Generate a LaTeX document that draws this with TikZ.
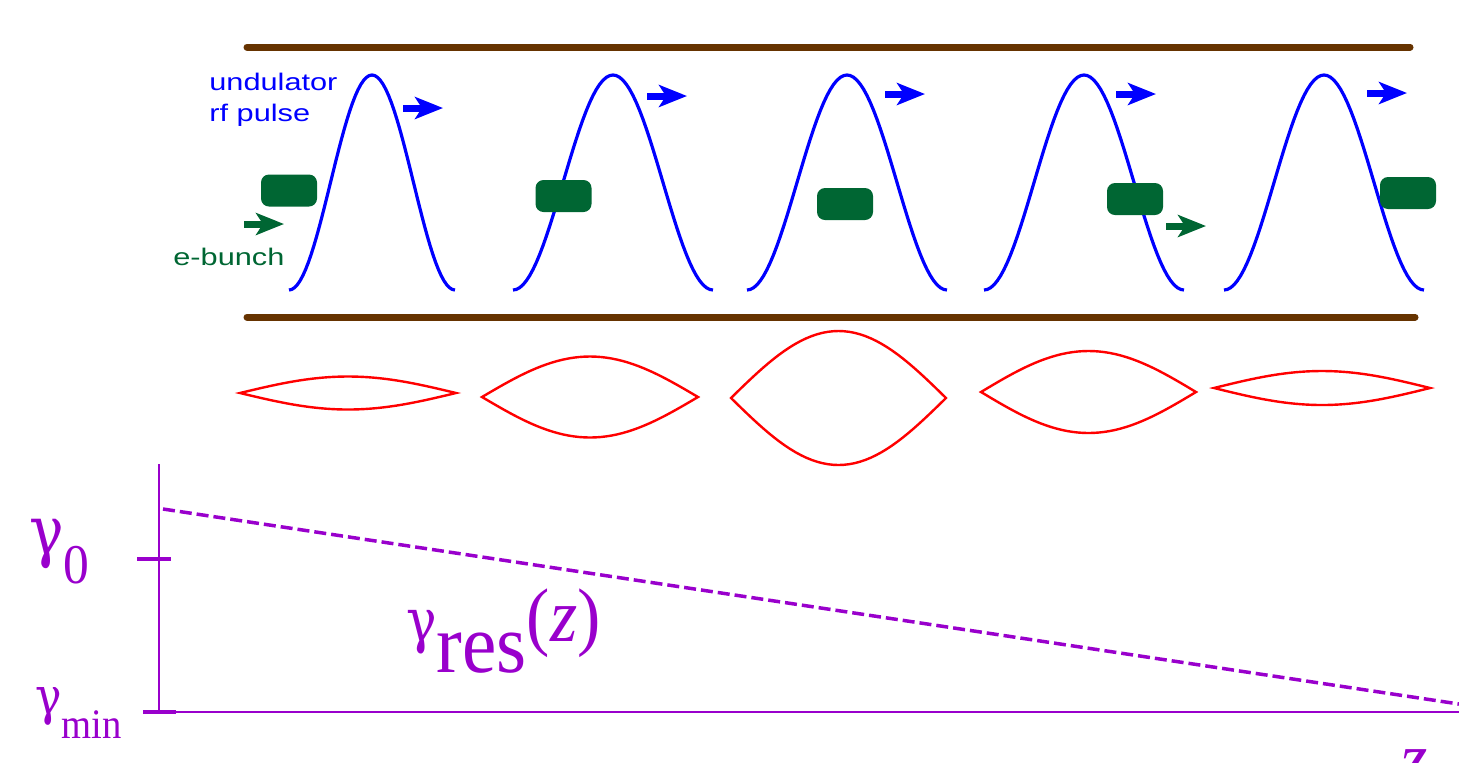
\documentclass[tikz,border=0pt]{standalone}
\usepackage{fontspec}
\usepackage{graphicx}
\setmainfont[FakeStretch=0.92]{Liberation Serif}
\setsansfont[FakeStretch=1.28]{Liberation Sans}
\newfontfamily\greekfont[FakeStretch=0.85]{DejaVu Serif}
\usetikzlibrary{arrows.meta,positioning}
\definecolor{railbrown}{RGB}{102,51,0}
\definecolor{bunchgreen}{RGB}{0,102,51}
\definecolor{gammapurple}{RGB}{153,0,204}

\begin{document}
\begin{tikzpicture}
  [x=0.5pt,y=-0.5pt,
   rail/.style={draw=railbrown,line width=3.5pt,line cap=round},
   pulse/.style={draw=blue,line width=1.6pt},
   lens/.style={draw=red,line width=1.2pt},
   bunch/.style={rectangle,rounded corners=4pt,fill=bunchgreen,
     inner sep=0pt,minimum width=28pt,minimum height=16pt},
   move/.style={line width=3.5pt,-{Stealth[length=14pt,width=11pt,inset=3.5pt]}},
   caption/.style={font=\sffamily\fontsize{12pt}{15.5pt}\selectfont,inner sep=0pt,align=left},
   gaxis/.style={draw=gammapurple,line width=1pt},
   gtick/.style={draw=gammapurple,line width=1.6pt},
   gammatext/.style={text=gammapurple,inner sep=0pt,anchor=base west}]
  \useasboundingbox (0,0) rectangle (1459,762);

  % undulator walls
  \coordinate (topL) at (247,47);
  \coordinate (topR) at (1410,47);
  \coordinate (botL) at (247,317);
  \coordinate (botR) at (1415,317);
  \draw[rail] (topL) -- (topR);
  \draw[rail] (botL) -- (botR);

  % rf pulses and their motion
  \foreach \c/\w in {372/83,613/100,847/100,1084/100,1324/100}
    \draw[pulse] plot[domain=-1:1,samples=61] ({\c+\w*\x},{290-107.5*(1+cos(180*\x))});
  \foreach \n/\c/\yy in {1/403/108,2/647/96,3/885/94,4/1116/94,5/1367/93}
    \draw[move,blue] (\c,\yy) coordinate (rf\n tail) -- ++(40,0) coordinate (rf\n head);

  \node[caption,text=blue,anchor=north west] (rflabel) at (209,73) {undulator\\rf pulse};

  % electron bunch slipping through the pulse
  \node[bunch] (bunch1) at (289,190.5) {};
  \node[bunch] (bunch2) at (563.5,196) {};
  \node[bunch] (bunch3) at (845,204) {};
  \node[bunch] (bunch4) at (1135,199) {};
  \node[bunch] (bunch5) at (1408,193) {};
  \draw[move,bunchgreen] (244,224) coordinate (e1tail) -- (284,224) coordinate (e1head);
  \draw[move,bunchgreen] (1166,226) coordinate (e4tail) -- (1206,226) coordinate (e4head);

  \node[caption,text=bunchgreen,anchor=base west] (bunchlabel) at (173,265) {e-bunch};

  % bucket size
  \foreach \xl/\xr/\ym/\hh in {240/456/393/16.5,482/698/397/40.5,731/946/398/67,981/1196/392/41,1214/1430/388/17}
    \draw[lens] plot[domain=0:1,samples=41] ({\xl+(\xr-\xl)*\x},{\ym-\hh*sin(180*\x)})
      -- plot[domain=1:0,samples=41] ({\xl+(\xr-\xl)*\x},{\ym+\hh*sin(180*\x)}) -- cycle;

  % resonant energy along z
  \coordinate (gtop) at (159,464);
  \coordinate (origin) at (159,712);
  \coordinate (zend) at (1459,712);
  \draw[gaxis] (gtop) -- (origin) -- (zend);
  \coordinate (tickzeroL) at (137,559);
  \coordinate (tickzeroR) at (171,559);
  \coordinate (tickminL) at (143,712);
  \coordinate (tickminR) at (176,712);
  \draw[gtick] (tickzeroL) -- (tickzeroR);
  \draw[gtick] (tickminL) -- (tickminR);
  \coordinate (resstart) at (163,509);
  \coordinate (resend) at (1459,704);
  \draw[gtick,line width=1.75pt,dash pattern=on 6pt off 2.5pt] (resstart) -- (resend);

  \node[gammatext] (gzero) at (29,554) {\fontsize{34pt}{34pt}\greekfont γ\raisebox{-14.5pt}{\fontsize{28pt}{28pt}\rmfamily 0}};
  \node[gammatext] (gmin) at (35,714) {\fontsize{26pt}{26pt}\greekfont γ\raisebox{-12pt}{\fontsize{21pt}{21pt}\rmfamily min}};
  \node[gammatext] (gres) at (406,641) {\fontsize{30pt}{30pt}\greekfont γ\raisebox{-15.5pt}{\fontsize{42pt}{42pt}\rmfamily res}\fontsize{38pt}{38pt}\rmfamily(\textit{z})};
  \node[gammatext] (zlabel) at (1400,784) {\fontsize{38pt}{38pt}\selectfont\textit{z}};
\end{tikzpicture}
\end{document}
